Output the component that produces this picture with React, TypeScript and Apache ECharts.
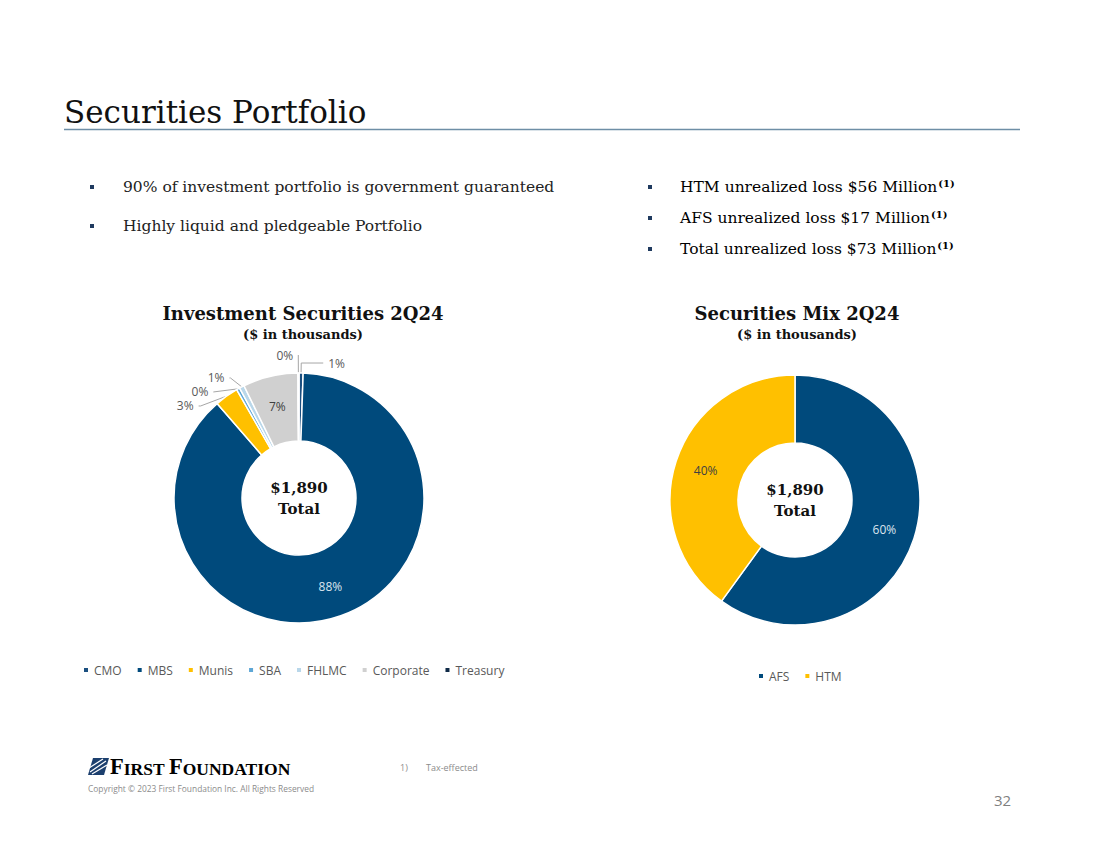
import React, { useEffect, useRef } from "react";
import * as echarts from "echarts";

const securityTypes = ["CMO", "MBS", "Munis", "SBA", "FHLMC", "Corporate", "Treasury"];
const securityValues = [10, 1665, 58, 8, 12, 134, 3];
const securityColors = ["#1b4f80", "#004a7c", "#ffc000", "#5ea7d6", "#b9d7ea", "#d0d0d0", "#0f2a47"];
const securityInside = [false, true, false, false, false, true, false];
const securityInsideColor = ["", "#dbe5ef", "", "", "", "#404040", ""];
const leaderLength = [10, 10, 10, 10, 10, 10, 18];
const leaderLength2 = [22, 0, 2, 0, 1, 0, 0];

const mixTypes = ["AFS", "HTM"];
const mixValues = [1134, 756];
const mixColors = ["#004a7c", "#ffc000"];
const mixInsideColor = ["#dbe5ef", "#404040"];

const totalLabel = "$1,890";
const leftBullets = ["90% of investment portfolio is government guaranteed", "Highly liquid and pledgeable Portfolio"];
const rightBullets = ["HTM unrealized loss $56 Million", "AFS unrealized loss $17 Million", "Total unrealized loss $73 Million"];

const SERIF = "'DejaVu Serif', serif";
const SANS = "'Open Sans', sans-serif";

const LEFT_CENTER = [299, 498];
const RIGHT_CENTER = [795, 500];
const RADIUS = [57, 125];

export default function App() {
  const ref = useRef<HTMLDivElement>(null);
  useEffect(() => {
    if (!ref.current) return;
    const chart = echarts.init(ref.current, null, { renderer: "svg" });

    const leftData = securityTypes.map((name, i) => ({
      name,
      value: securityValues[i],
      itemStyle: { color: securityColors[i] },
      label: securityInside[i]
        ? { position: "inside", color: securityInsideColor[i] }
        : { position: "outside", color: "#595959" },
      labelLine: { show: !securityInside[i], length: leaderLength[i], length2: leaderLength2[i] },
    }));
    const rightData = mixTypes.map((name, i) => ({
      name,
      value: mixValues[i],
      itemStyle: { color: mixColors[i] },
      label: { position: "inside", color: mixInsideColor[i] },
    }));

    const bulletGraphics: any[] = [];
    leftBullets.forEach((t, i) => {
      const y = 187 + i * 39;
      bulletGraphics.push({ type: "rect", shape: { x: 90, y: y - 2, width: 4, height: 4 }, style: { fill: "#1f3a5f" } });
      bulletGraphics.push({
        type: "text", x: 123, y,
        style: { text: t, font: `15.5px ${SERIF}`, fill: "#222", verticalAlign: "middle" },
      });
    });
    rightBullets.forEach((t, i) => {
      const y = 187 + i * 31;
      bulletGraphics.push({ type: "rect", shape: { x: 648, y: y - 2, width: 4, height: 4 }, style: { fill: "#1f3a5f" } });
      bulletGraphics.push({
        type: "text", x: 680, y,
        style: {
          text: `{t|${t}}{s|(1)}`,
          verticalAlign: "middle",
          rich: {
            t: { fontFamily: SERIF, fontSize: 15.5, color: "#222", lineHeight: 20 },
            s: { fontFamily: SERIF, fontSize: 10, fontWeight: "bold", color: "#222", lineHeight: 20, padding: [0, 0, 8, 1] },
          },
        },
      });
    });

    const centerText = (c: number[]) => ({
      type: "text", x: c[0], y: c[1],
      style: {
        text: `${totalLabel}\nTotal`,
        font: `bold 15px ${SERIF}`, fill: "#111", align: "center", verticalAlign: "middle", lineHeight: 21,
      },
    });

    chart.setOption({
      animation: false,
      title: [
        {
          text: "Investment Securities 2Q24", subtext: "($ in thousands)", left: 303, top: 304, textAlign: "center",
          textStyle: { fontFamily: SERIF, fontSize: 18, fontWeight: "bold", color: "#111" },
          subtextStyle: { fontFamily: SERIF, fontSize: 13, fontWeight: "bold", color: "#111" },
          itemGap: 6, padding: 0,
        },
        {
          text: "Securities Mix 2Q24", subtext: "($ in thousands)", left: 797, top: 304, textAlign: "center",
          textStyle: { fontFamily: SERIF, fontSize: 18, fontWeight: "bold", color: "#111" },
          subtextStyle: { fontFamily: SERIF, fontSize: 13, fontWeight: "bold", color: "#111" },
          itemGap: 6, padding: 0,
        },
      ],
      legend: [
        {
          data: securityTypes, left: 82, top: 664, icon: "rect", itemWidth: 6, itemHeight: 6, itemGap: 14, padding: 0,
          textStyle: { fontFamily: SANS, fontSize: 12, color: "#595959" }, selectedMode: false,
        },
        {
          data: mixTypes, left: 757, top: 670, icon: "rect", itemWidth: 6, itemHeight: 6, itemGap: 14, padding: 0,
          textStyle: { fontFamily: SANS, fontSize: 12, color: "#595959" }, selectedMode: false,
        },
      ],
      series: [
        {
          type: "pie", center: LEFT_CENTER, radius: RADIUS, startAngle: 90, clockwise: true,
          percentPrecision: 0,
          avoidLabelOverlap: true,
          itemStyle: { borderColor: "#fff", borderWidth: 1.5 },
          label: { formatter: "{d}%", fontFamily: SANS, fontSize: 12, color: "#595959" },
          labelLine: { lineStyle: { color: "#a6a6a6", width: 1 } },
          emphasis: { disabled: true },
          data: leftData,
        },
        {
          type: "pie", center: RIGHT_CENTER, radius: RADIUS, startAngle: 90, clockwise: true,
          percentPrecision: 0,
          itemStyle: { borderColor: "#fff", borderWidth: 1.5 },
          label: { formatter: "{d}%", fontFamily: SANS, fontSize: 12 },
          emphasis: { disabled: true },
          data: rightData,
        },
      ],
      graphic: [
        { type: "text", x: 64, y: 112, style: { text: "Securities Portfolio", font: `31px ${SERIF}`, fill: "#111", verticalAlign: "middle" } },
        { type: "line", shape: { x1: 64, y1: 129.5, x2: 1020, y2: 129.5 }, style: { stroke: "#6e8ea6", lineWidth: 1.5 } },
        ...bulletGraphics,
        centerText(LEFT_CENTER),
        centerText(RIGHT_CENTER),
        { type: "polygon", shape: { points: [[93, 758], [109, 758], [104, 775], [88, 775]] }, style: { fill: "#1c3f6e" } },
        { type: "line", shape: { x1: 90, y1: 772, x2: 106, y2: 761 }, style: { stroke: "#fff", lineWidth: 1.2 } },
        { type: "line", shape: { x1: 92, y1: 774, x2: 107, y2: 765 }, style: { stroke: "#fff", lineWidth: 1.2 } },
        { type: "line", shape: { x1: 89, y1: 768, x2: 103, y2: 759 }, style: { stroke: "#fff", lineWidth: 1.2 } },
        {
          type: "text", x: 110, y: 767,
          style: {
            text: "{b|F}{s|IRST }{b|F}{s|OUNDATION}",
            verticalAlign: "middle",
            rich: {
              b: { fontFamily: "'Liberation Serif', serif", fontSize: 22.5, fontWeight: "bold", color: "#1c3f6e", lineHeight: 22, verticalAlign: "bottom" },
              s: { fontFamily: "'Liberation Serif', serif", fontSize: 17.5, fontWeight: "bold", color: "#1c3f6e", lineHeight: 22, verticalAlign: "bottom" },
            },
          },
        },
        { type: "text", x: 88, y: 788, style: { text: "Copyright © 2023 First Foundation Inc. All Rights Reserved", font: `8.4px ${SANS}`, fill: "#8c8c8c", verticalAlign: "middle" } },
        { type: "text", x: 400, y: 767, style: { text: "1)", font: `9px ${SANS}`, fill: "#8c8c8c", verticalAlign: "middle" } },
        { type: "text", x: 426, y: 767, style: { text: "Tax-effected", font: `9px ${SANS}`, fill: "#8c8c8c", verticalAlign: "middle" } },
        { type: "text", x: 994, y: 800, style: { text: "32", font: `15px ${SANS}`, fill: "#7f7f7f", verticalAlign: "middle" } },
      ],
    });
    return () => chart.dispose();
  }, []);
  return <div ref={ref} style={{ position: "absolute", left: 0, top: 0, width: 1100, height: 849, background: "#fff" }} />;
}
